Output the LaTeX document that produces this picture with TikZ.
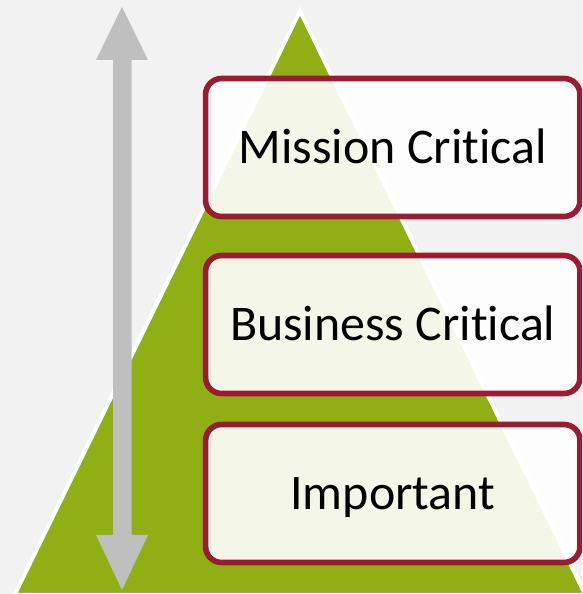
\documentclass[tikz,border=0pt]{standalone}
\usepackage{fontspec}
\setmainfont{Carlito}[Ligatures=NoCommon]
\usetikzlibrary{positioning}
\definecolor{bggray}{HTML}{F2F2F2}
\definecolor{pyrgreen}{HTML}{8FAF15}
\definecolor{arrowgray}{HTML}{BFBFBF}
\definecolor{tierred}{HTML}{9B1B30}
\tikzset{
  tierbox/.style={draw=tierred, line width=0.14cm, fill=white, fill opacity=0.9,
    text opacity=1, rounded corners=0.4cm, minimum width=9.36cm,
    minimum height=3.45cm, outer sep=0pt, text height=22.8pt, text depth=0pt,
    font=\fontsize{35.5}{42}\selectfont}
}
\begin{document}
\begin{tikzpicture}
    \fill [bggray] (0,0) rectangle (14.55,14.85);
    \useasboundingbox (0,0) rectangle (14.55,14.85);
    \clip (0,0) rectangle (14.55,14.85);
    % pyramid
    \filldraw [fill=pyrgreen, draw=white, line width=0.1cm] (7.5,14.575)--(14.6375,-0.025)--(0.3625,-0.025)--cycle;
    % scale arrow
    \fill [arrowgray] (3.05,14.675)--(3.7,13.35)--(3.29,13.35)--(3.29,1.475)--(3.7,1.475)--(3.05,0.1)
      --(2.4,1.475)--(2.825,1.475)--(2.825,13.35)--(2.4,13.35)--cycle;
    % tiers
    \node [tierbox] (mission) at (9.82,11.1625) {Mission Critical};
    \node [tierbox, below=0.975cm of mission] (business) {Business Critical};
    \node [tierbox, below=0.775cm of business] (important) {Important};
  \end{tikzpicture}
\end{document}
